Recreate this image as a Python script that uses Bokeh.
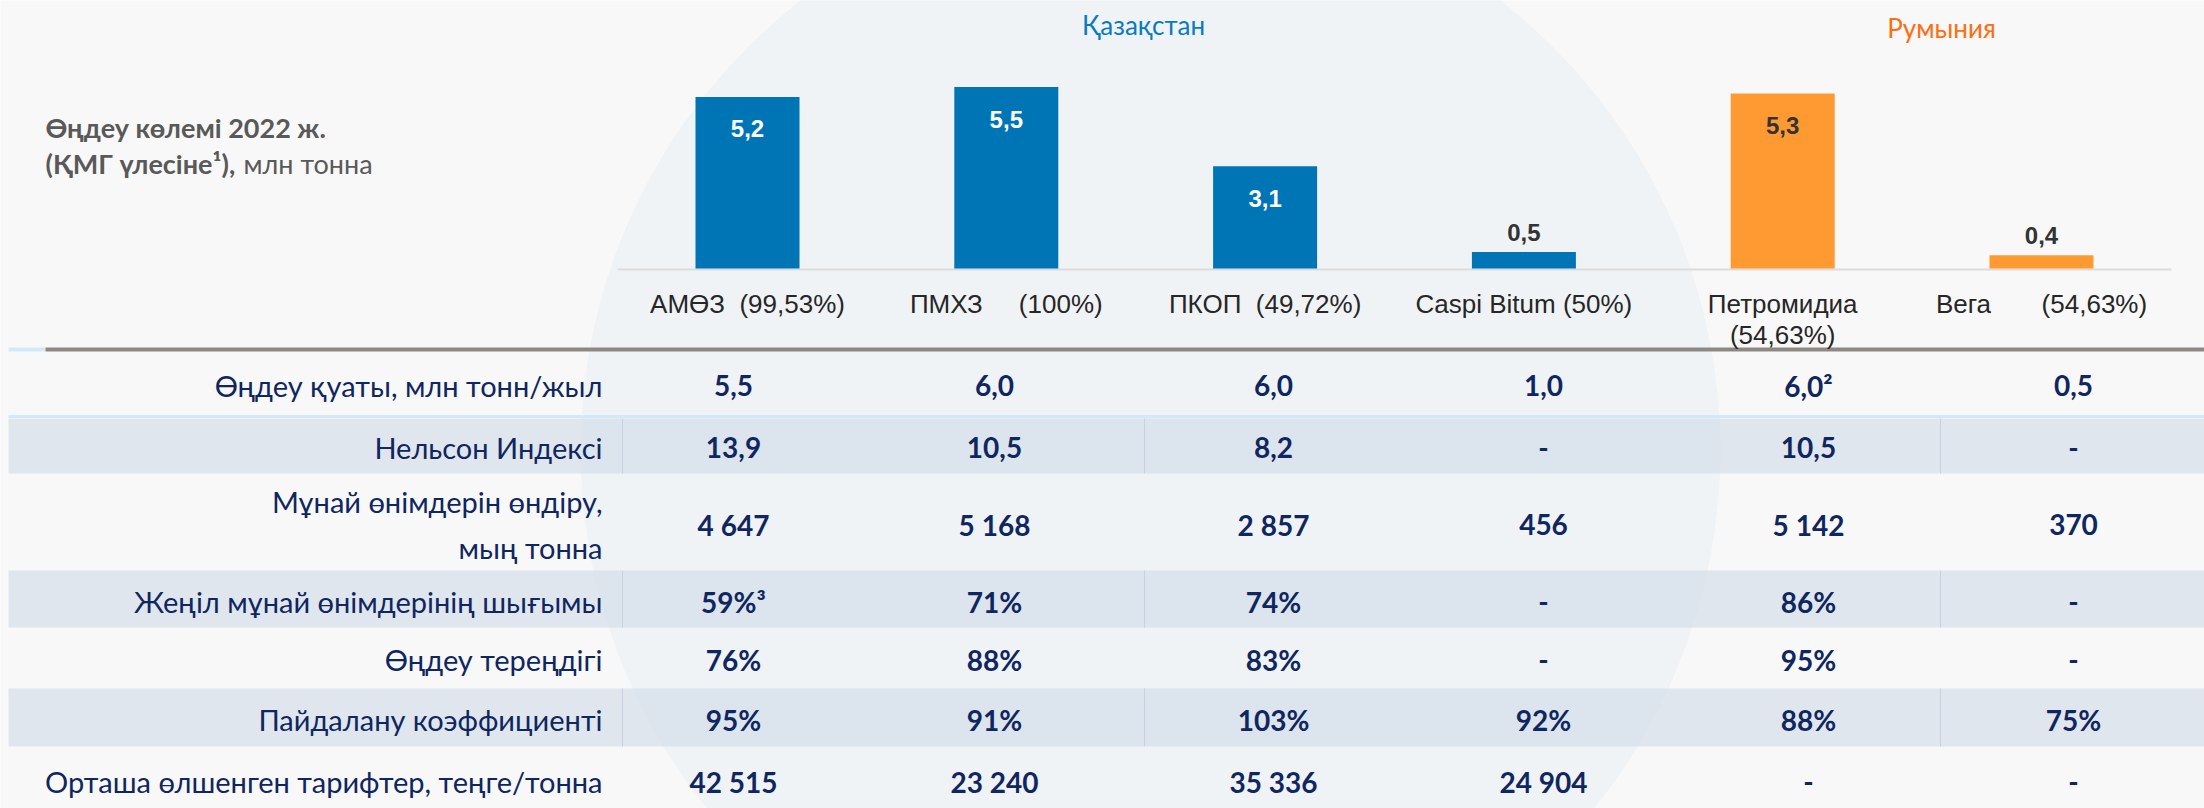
from bokeh.plotting import figure
from bokeh.models import Range1d
from bokeh.embed import file_html
from bokeh.resources import INLINE
from bokeh.core.properties import value

# ---------------- data ----------------
categories = ["АМӨЗ", "ПМХЗ", "ПКОП", "Caspi Bitum", "Петромидиа", "Вега"]
cat_labels = ["АМӨЗ\u00a0\u00a0(99,53%)", "ПМХЗ\u00a0\u00a0\u00a0\u00a0\u00a0(100%)",
              "ПКОП\u00a0\u00a0(49,72%)", "Caspi Bitum (50%)", "Петромидиа\n(54,63%)",
              "Вега\u00a0\u00a0\u00a0\u00a0\u00a0\u00a0\u00a0(54,63%)"]
countries = ["Қазақстан", "Қазақстан", "Қазақстан", "Қазақстан", "Румыния", "Румыния"]
volumes = [5.2, 5.5, 3.1, 0.5, 5.3, 0.4]
volume_labels = ["5,2", "5,5", "3,1", "0,5", "5,3", "0,4"]

row_labels = ["Өңдеу қуаты, млн тонн/жыл", "Нельсон Индексі",
              "Мұнай өнімдерін өндіру,\nмың тонна", "Жеңіл мұнай өнімдерінің шығымы",
              "Өңдеу тереңдігі", "Пайдалану коэффициенті",
              "Орташа өлшенген тарифтер, теңге/тонна"]
capacity = ["5,5", "6,0", "6,0", "1,0", "6,0²", "0,5"]
nelson = ["13,9", "10,5", "8,2", "-", "10,5", "-"]
products = ["4 647", "5 168", "2 857", "456", "5 142", "370"]
light_yield = ["59%³", "71%", "74%", "-", "86%", "-"]
depth = ["76%", "88%", "83%", "-", "95%", "-"]
utilization = ["95%", "91%", "103%", "92%", "88%", "75%"]
tariffs = ["42 515", "23 240", "35 336", "24 904", "-", "-"]
table_rows = [capacity, nelson, products, light_yield, depth, utilization, tariffs]

title_bold_1 = "Өңдеу көлемі 2022 ж."
title_bold_2 = "(ҚМГ үлесіне¹),"
title_reg_2 = "млн тонна"

# ---------------- layout / style ----------------
W, H = 2204, 808
BG = "#f8f8f8"
NAVY = "#0f2660"
BLUE = "#0075b6"
ORANGE = "#ff9a33"
BASE = 268.0       # bar baseline (px)
PXU = 33.0         # px per million tonnes
X0, STEP = 747.0, 258.8
BAR_W = 104.0

p = figure(width=W, height=H, x_range=Range1d(0, W), y_range=Range1d(H, 0),
           output_backend="svg", toolbar_location=None, min_border=0,
           x_axis_location=None, y_axis_location=None,
           background_fill_color=BG, border_fill_color=BG, outline_line_color=None)
p.grid.visible = False
p.extra_y_ranges = {"vol": Range1d(start=(BASE - H) / PXU, end=BASE / PXU)}
p.extra_x_ranges = {"idx": Range1d(start=(0 - X0) / STEP, end=(W - X0) / STEP)}

idx = list(range(len(categories)))
colors = [BLUE if c == "Қазақстан" else ORANGE for c in countries]

# faint watermark (logo circle)
p.ellipse(x=[1150], y=[450], width=[1140], height=[1140], fill_color="#f0f3f6", line_color=None)

# table bands
row_tops = [355, 418, 473, 570, 627, 688, 746]
row_bots = [416, 473, 570, 627, 688, 746, 808]
band_rows = [1, 3, 5]
p.quad(left=[8] * 3, right=[W] * 3, top=[row_tops[i] for i in band_rows],
       bottom=[row_bots[i] for i in band_rows], fill_color="#ccd7e6", fill_alpha=0.55,
       line_color=None)
for i in band_rows:
    for sx in [622, 1144, 1940]:
        p.segment(x0=sx, x1=sx, y0=row_tops[i], y1=row_bots[i], line_color="#c5d2e2", line_width=1)

# lines
p.segment(x0=617, x1=2171, y0=BASE + 1, y1=BASE + 1, line_color="#dcdcdc", line_width=2)
p.segment(x0=8, x1=45, y0=349, y1=349, line_color="#d3e9f7", line_width=4)
p.segment(x0=45, x1=W, y0=349, y1=349, line_color="#8e8883", line_width=4)
p.segment(x0=8, x1=W, y0=416, y1=416, line_color="#d3e9f7", line_width=3)

# bars
p.vbar(x=idx, top=volumes, bottom=0, width=BAR_W / STEP, fill_color=colors, line_color=None,
       x_range_name="idx", y_range_name="vol")

inside = [v > 1 for v in volumes]
in_x = [i for i, f in zip(idx, inside) if f]
in_y = [v for v, f in zip(volumes, inside) if f]
in_t = [t for t, f in zip(volume_labels, inside) if f]
in_c = ["#ffffff" if c == "Қазақстан" else "#333333" for c, f in zip(countries, inside) if f]
p.text(x=in_x, y=in_y, text=in_t, text_color=in_c, x_range_name="idx", y_range_name="vol",
       text_align="center", text_baseline="middle", y_offset=32,
       text_font=value("Liberation Sans"), text_font_style="bold", text_font_size="24px")
out_x = [i for i, f in zip(idx, inside) if not f]
out_y = [v for v, f in zip(volumes, inside) if not f]
out_t = [t for t, f in zip(volume_labels, inside) if not f]
p.text(x=out_x, y=out_y, text=out_t, text_color="#333333", x_range_name="idx", y_range_name="vol",
       text_align="center", text_baseline="middle", y_offset=-20,
       text_font=value("Liberation Sans"), text_font_style="bold", text_font_size="24px")

# category labels
p.text(x=idx, y=[288] * len(idx), text=cat_labels, x_range_name="idx",
       text_align="center", text_baseline="top", text_color="#262626", text_line_height=1.05,
       text_font=value("Liberation Sans"), text_font_size="26px")

# country headers
p.text(x=[1143], y=[24], text=[countries[0]], text_color="#0a7bc0", text_align="center",
       text_baseline="middle", text_font=value("Lato"), text_font_size="26px")
p.text(x=[1941], y=[27], text=[countries[4]], text_color="#ff6d0f", text_align="center",
       text_baseline="middle", text_font=value("Lato"), text_font_size="26px")

# left title
p.text(x=[45], y=[127], text=[title_bold_1], text_color="#595959", text_align="left",
       text_baseline="middle", text_font=value("Lato"), text_font_style="bold", text_font_size="27px")
p.text(x=[45], y=[163], text=[title_bold_2], text_color="#595959", text_align="left",
       text_baseline="middle", text_font=value("Lato"), text_font_style="bold", text_font_size="27px")
p.text(x=[243], y=[163], text=[title_reg_2], text_color="#595959", text_align="left",
       text_baseline="middle", text_font=value("Lato"), text_font_size="27px")

# table
row_centers = [385, 447, 524, 601, 659, 719, 781]
col_x = [733, 994, 1273, 1543, 1808, 2073]
p.text(x=[602] * len(row_labels), y=row_centers, text=row_labels, text_color=NAVY,
       text_align="right", text_baseline="middle", text_line_height=1.3,
       text_font=value("Lato"), text_font_size="29px")
for r, vals in enumerate(table_rows):
    p.text(x=col_x, y=[row_centers[r]] * len(vals), text=vals, text_color=NAVY,
           text_align="center", text_baseline="middle",
           text_font=value("Lato"), text_font_style="bold", text_font_size="28px")

open("out.html", "w").write(file_html(p, INLINE))
